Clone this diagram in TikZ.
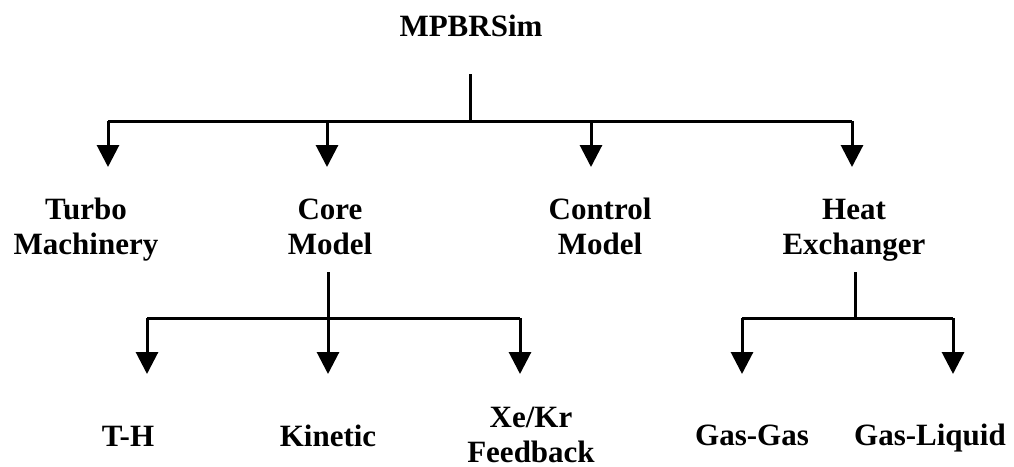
\documentclass[tikz,border=0pt]{standalone}
\usepackage{fontspec}
\setmainfont{Liberation Serif}
\usetikzlibrary{arrows.meta,positioning}

\begin{document}
\begin{tikzpicture}[
  x=1pt, y=-1pt,
  item/.style={inner sep=0pt, align=center, anchor=base, font=\fontsize{31}{35}\selectfont\bfseries},
  wire/.style={line width=3pt},
  arr/.style={line width=3pt, -{Triangle[width=22pt,length=22pt]}}
]
  \useasboundingbox (0,0) rectangle (1014,466);

  % Top level
  \node[item] (root) at (471,36) {MPBRSim};

  % Models (base = last line)
  \node[item] (turbo) at (86,254) {Turbo\\Machinery};
  \node[item] (core) at (330,254) {Core\\Model};
  \node[item] (control) at (600,254) {Control\\Model};
  \node[item] (heat) at (854,254) {Heat\\Exchanger};

  % Sub-models
  \node[item] (th) at (128,446) {T-H};
  \node[item] (kinetic) at (328,446) {Kinetic};
  \node[item] (xekr) at (531,462) {Xe/Kr\\Feedback};
  \node[item] (gasgas) at (752,445) {Gas-Gas};
  \node[item] (gasliq) at (930,445) {Gas-Liquid};

  % Bus points and arrow tips
  \coordinate (bus1) at (470,121);
  \coordinate (bus2) at (328,318);
  \coordinate (bus3) at (855,318);
  \coordinate (t1) at (108,167);
  \coordinate (t2) at (327,167);
  \coordinate (t3) at (591,167);
  \coordinate (t4) at (852,167);
  \coordinate (s1) at (147,374);
  \coordinate (s2) at (328,374);
  \coordinate (s3) at (520,374);
  \coordinate (s4) at (742,374);
  \coordinate (s5) at (953,374);

  % MPBRSim branches
  \draw[wire] (bus1 |- 0,74) -- (bus1);
  \draw[wire] (t1 |- bus1) -- (t4 |- bus1);
  \foreach \t in {t1,t2,t3,t4}
    \draw[arr] (\t |- bus1) -- (\t);

  % Core model branches
  \draw[wire] (bus2 |- 0,272) -- (bus2);
  \draw[wire] (s1 |- bus2) -- (s3 |- bus2);
  \foreach \t in {s1,s2,s3}
    \draw[arr] (\t |- bus2) -- (\t);

  % Heat exchanger branches
  \draw[wire] (bus3 |- 0,272) -- (bus3);
  \draw[wire] (s4 |- bus3) -- (s5 |- bus3);
  \foreach \t in {s4,s5}
    \draw[arr] (\t |- bus3) -- (\t);

\end{tikzpicture}
\end{document}
